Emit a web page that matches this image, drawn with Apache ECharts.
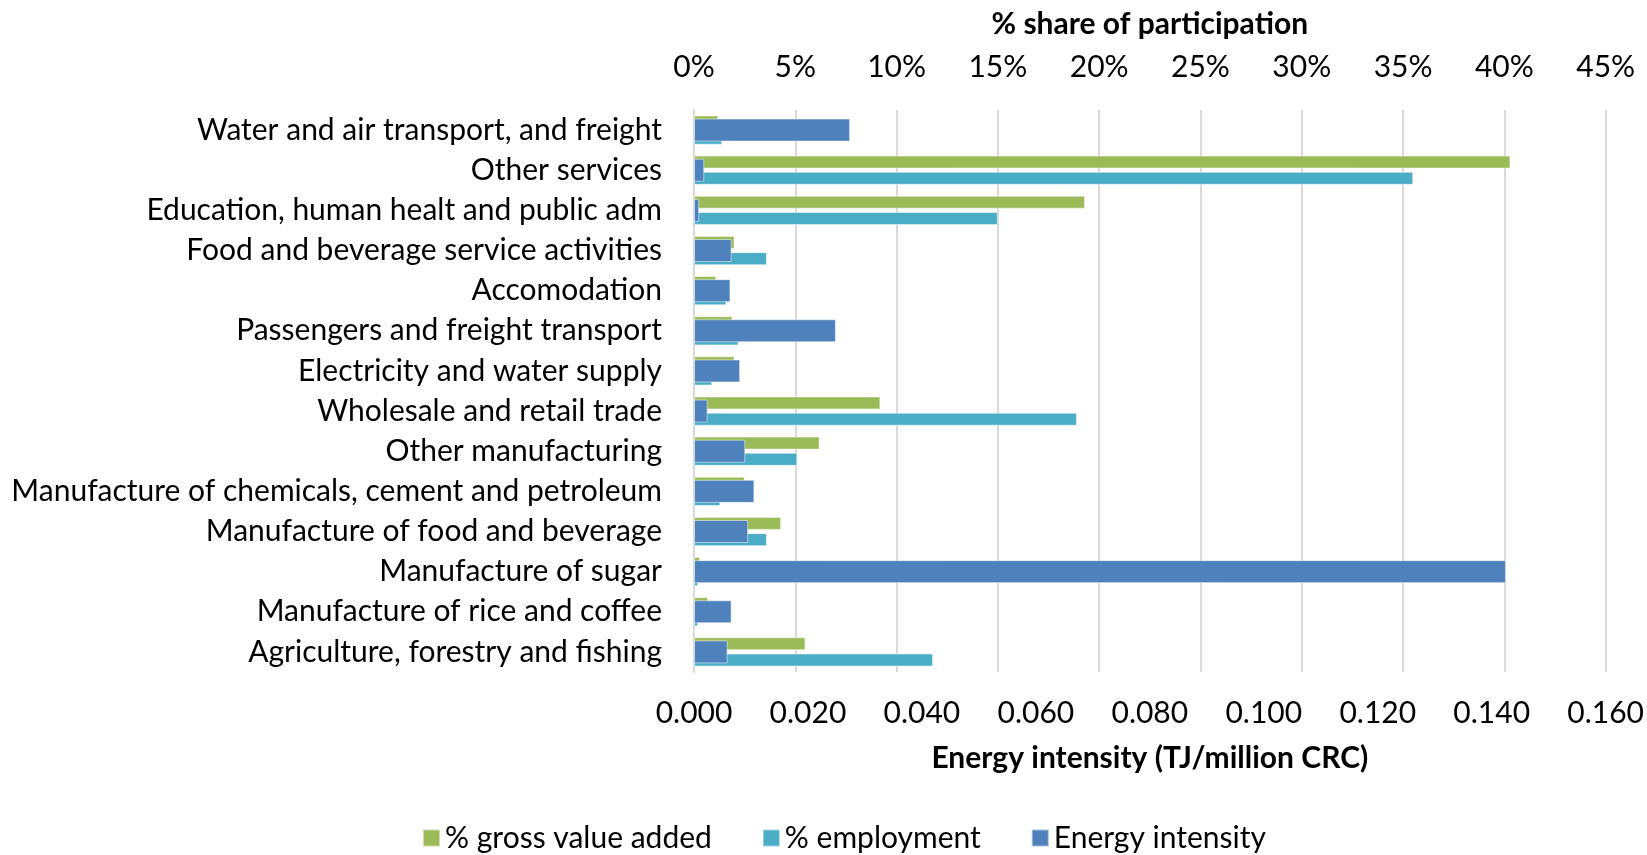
<!DOCTYPE html>
<html>
<head>
<meta charset="utf-8">
<script src="https://cdn.jsdelivr.net/npm/echarts@6/dist/echarts.min.js"></script>
<style>
  html, body { margin: 0; padding: 0; background: #fff; }
  #chart { width: 1647px; height: 855px; }
</style>
</head>
<body>
<div id="chart"></div>
<script>
// sectors, top to bottom
var categories = [
  "Water and air transport, and freight",
  "Other services",
  "Education, human healt and public adm",
  "Food and beverage service activities",
  "Accomodation",
  "Passengers and freight transport",
  "Electricity and water supply",
  "Wholesale and retail trade",
  "Other manufacturing",
  "Manufacture of chemicals, cement and petroleum",
  "Manufacture of food and beverage",
  "Manufacture of sugar",
  "Manufacture of rice and coffee",
  "Agriculture, forestry and fishing"
];
// % share of participation
var grossValueAdded = [1.2, 40.3, 19.3, 2.0, 1.1, 1.9, 2.0, 9.2, 6.2, 2.5, 4.3, 0.3, 0.7, 5.5];
var employment = [1.4, 35.5, 15.0, 3.6, 1.6, 2.2, 0.9, 18.9, 5.1, 1.3, 3.6, 0.2, 0.2, 11.8];
// TJ/million CRC
var energyIntensity = [0.0274, 0.0018, 0.0009, 0.0066, 0.0064, 0.0249, 0.0081, 0.0024, 0.0090, 0.0106, 0.0095, 0.1425, 0.0066, 0.0059];

var shareTicks = { min: 0, max: 45, interval: 5 };
var intensityTicks = { min: 0, max: 0.16, interval: 0.02 };

var font = "Lato";
var fs = 30;
var chart = echarts.init(document.getElementById("chart"));

chart.setOption({
  animation: false,
  textStyle: { fontFamily: font, color: "#000" },
  grid: { left: 694, right: 39, top: 110, bottom: 183 },
  legend: {
    bottom: -3,
    left: 417,
    icon: "rect",
    itemWidth: 17,
    itemHeight: 17,
    itemGap: 50,
    textStyle: { fontFamily: font, fontSize: fs, color: "#000" },
    data: ["% gross value added", "% employment", "Energy intensity"]
  },
  xAxis: [
    {
      type: "value",
      position: "top",
      min: shareTicks.min,
      max: shareTicks.max,
      interval: shareTicks.interval,
      name: "% share of participation",
      nameLocation: "middle",
      nameGap: 71,
      nameTextStyle: { fontFamily: font, fontSize: fs, fontWeight: "bold", color: "#000" },
      axisLine: { show: false },
      axisTick: { show: false },
      axisLabel: {
        margin: 28,
        fontSize: fs,
        color: "#000",
        formatter: "{value}%"
      },
      splitLine: { show: true, lineStyle: { color: "#d9d9d9", width: 2 } }
    },
    {
      type: "value",
      position: "bottom",
      min: intensityTicks.min,
      max: intensityTicks.max,
      interval: intensityTicks.interval,
      name: "Energy intensity (TJ/million CRC)",
      nameLocation: "middle",
      nameGap: 71,
      nameTextStyle: { fontFamily: font, fontSize: fs, fontWeight: "bold", color: "#000" },
      axisLine: { show: false },
      axisTick: { show: false },
      axisLabel: {
        margin: 26,
        fontSize: fs,
        color: "#000",
        formatter: function (v) {
          return v.toFixed(3);
        }
      },
      splitLine: { show: false }
    }
  ],
  yAxis: [
    {
      type: "category",
      inverse: true,
      data: categories,
      axisLine: { show: true, lineStyle: { color: "#d9d9d9", width: 2 } },
      axisTick: { show: false },
      axisLabel: { margin: 32, fontSize: fs, color: "#000" }
    },
    {
      type: "category",
      inverse: true,
      data: categories,
      show: false
    }
  ],
  series: [
    {
      name: "% gross value added",
      type: "bar",
      xAxisIndex: 0,
      yAxisIndex: 0,
      barWidth: 13,
      barGap: "25%",
      itemStyle: { color: "#9bbb59", borderColor: "rgba(255,255,255,0.5)", borderWidth: 1 },
      data: grossValueAdded
    },
    {
      name: "% employment",
      type: "bar",
      xAxisIndex: 0,
      yAxisIndex: 0,
      barWidth: 13,
      barGap: "25%",
      itemStyle: { color: "#4bacc6", borderColor: "rgba(255,255,255,0.5)", borderWidth: 1 },
      data: employment
    },
    {
      name: "Energy intensity",
      type: "bar",
      xAxisIndex: 1,
      yAxisIndex: 1,
      barWidth: 23,
      itemStyle: { color: "#4f81bd", borderColor: "rgba(255,255,255,0.5)", borderWidth: 1 },
      data: energyIntensity
    }
  ]
});
</script>
</body>
</html>
